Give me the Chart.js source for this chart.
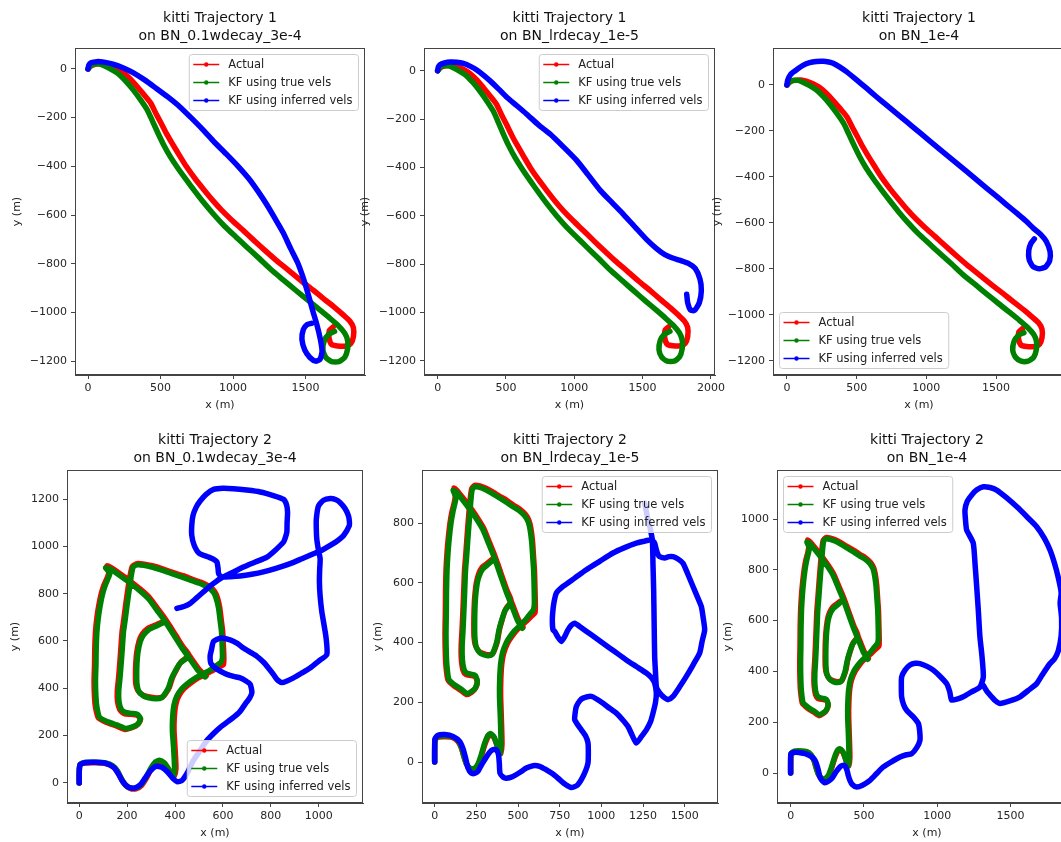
<!DOCTYPE html>
<html>
<head>
<meta charset="utf-8">
<title>KITTI trajectories</title>
<script src="https://cdn.jsdelivr.net/npm/chart.js@4.4.1/dist/chart.umd.min.js"></script>
<style>
  html, body { margin: 0; padding: 0; background: #fff; }
  #fig { position: relative; width: 1061px; height: 842px; overflow: hidden; background: #fff; }
  #fig canvas { position: absolute; }
</style>
</head>
<body>
<div id="fig"></div>
<script>
// ---------- series labels ----------
const seriesLabels = ['Actual', 'KF using true vels', 'KF using inferred vels'];

// ---------- trajectory 1 (metres) ----------
const traj1Actual = [
  [0,0],[20,12],[54,20],[100,22],[139,17],[190,5],[237,-12],[290,-40],[335,-70],[385,-105],
  [432,-140],[470,-185],[506,-225],[545,-270],[579,-305],[630,-355],[677,-400],[740,-452],
  [799,-496],[860,-540],[921,-580],[990,-620],[1068,-662],[1140,-702],[1214,-742],[1300,-787],
  [1385,-828],[1470,-870],[1556,-910],[1630,-946],[1702,-980],[1760,-1010],[1805,-1035],
  [1830,-1062],[1830,-1100],[1812,-1128],[1780,-1138],[1720,-1138],[1680,-1132],[1662,-1105],
  [1664,-1074],[1690,-1060]
];
const traj1KfTrue = [
  [0,0],[20,14],[42,20],[80,20],[115,12],[160,-2],[213,-22],[260,-50],[310,-85],[360,-125],
  [408,-168],[445,-215],[481,-262],[520,-310],[567,-360],[620,-408],[677,-455],[740,-505],
  [799,-550],[870,-600],[945,-648],[1020,-690],[1092,-730],[1180,-778],[1263,-825],[1350,-868],
  [1434,-910],[1520,-952],[1605,-993],[1670,-1025],[1727,-1055],[1770,-1085],[1790,-1115],
  [1790,-1150],[1770,-1185],[1730,-1202],[1680,-1202],[1640,-1185],[1620,-1155],[1630,-1115],
  [1660,-1090],[1700,-1078]
];
const traj1InferredWdecay = [
  [0,0],[5,15],[20,25],[60,30],[110,28],[172,20],[240,5],[310,-15],[390,-45],[471,-80],
  [550,-115],[632,-155],[710,-200],[793,-250],[870,-300],[954,-350],[1035,-400],[1115,-455],
  [1175,-505],[1230,-555],[1290,-615],[1345,-672],[1395,-735],[1445,-795],[1485,-860],
  [1518,-925],[1548,-990],[1578,-1050],[1602,-1110],[1614,-1160],[1600,-1192],[1570,-1200],
  [1530,-1185],[1495,-1155],[1475,-1110],[1485,-1070],[1510,-1050],[1540,-1045]
];
const traj1InferredLrdecay = [
  [0,0],[5,15],[17,25],[50,32],[90,36],[140,35],[188,30],[240,18],[286,3],[335,-18],
  [384,-42],[445,-75],[506,-110],[580,-145],[652,-180],[740,-225],[823,-262],[920,-315],
  [1019,-372],[1100,-430],[1190,-495],[1275,-545],[1361,-595],[1450,-650],[1532,-700],
  [1600,-735],[1660,-760],[1720,-775],[1776,-785],[1835,-797],[1885,-818],[1920,-862],
  [1930,-910],[1915,-960],[1880,-992],[1850,-990],[1830,-960],[1823,-925]
];
const traj1InferredBase = [
  [0,0],[5,20],[25,45],[67,65],[115,85],[163,97],[210,102],[259,103],[300,100],[331,95],
  [380,78],[427,58],[500,22],[571,-14],[640,-50],[715,-88],[810,-135],[907,-184],[1000,-231],
  [1099,-281],[1195,-329],[1291,-377],[1385,-425],[1483,-474],[1570,-518],[1651,-559],
  [1715,-592],[1771,-625],[1820,-650],[1860,-680],[1888,-725],[1885,-765],[1855,-792],
  [1810,-800],[1765,-790],[1738,-760],[1735,-720],[1750,-690],[1775,-670]
];

// ---------- trajectory 2 (metres) ----------
const traj2Actual = [
  [0,0],[0,40],[3,76],[25,84],[70,85],[110,82],[140,69],[160,47],[176,17],[192,-8],[212,-23],
  [237,-25],[260,-11],[280,19],[300,57],[320,84],[337,92],[357,81],[375,55],[388,32],[396,28],
  [404,60],[400,150],[396,220],[397,276],[403,330],[415,366],[437,398],[460,418],[490,440],
  [522,457],[555,474],[580,488],[602,500],
  [604,530],[602,580],[599,640],[593,690],[587,740],[577,784],[565,810],[544,830],
  [509,848],[474,860],[434,876],[390,890],[348,905],[305,918],[272,925],[241,927],[222,915],
  [213,880],[207,845],[199,790],[193,745],[186,690],[179,640],[174,570],[169,501],[164,440],
  [159,389],[160,345],[170,308],[188,293],[218,290],[243,286],[256,268],[244,247],[222,234],
  [192,226],[157,240],[116,255],[80,275],
  [68,320],[64,361],[62,430],[64,501],[65,570],[68,640],[74,700],[82,752],[92,800],[103,836],
  [118,870],[124,892],[118,905],[116,918],
  [133,910],[169,885],[210,855],[254,820],[294,783],[329,735],[363,688],[399,630],[433,576],[459,540],
  [426,512],[405,477],[389,444],[377,406],[364,383],[349,364],[322,359],[288,364],[264,372],
  [244,392],[236,420],[235,460],[236,501],[240,550],[250,600],[264,630],[286,653],[318,667],[362,684],
  [399,630],[433,576],[469,525],[502,478],[530,452]
];
const traj2KfTrue = [
  [0,0],[0,40],[4,78],[25,86],[70,87],[110,84],[140,72],[160,50],[175,20],[190,-5],[210,-20],
  [235,-22],[258,-8],[278,22],[298,60],[318,88],[335,96],[355,85],[372,60],[385,35],[393,28],
  [398,60],[394,150],[389,220],[390,276],[396,330],[408,368],[430,400],[452,420],[480,440],
  [512,458],[545,476],[568,493],[592,510],
  [598,530],[597,580],[594,640],[588,690],[582,738],[572,780],[561,805],[540,825],
  [505,843],[470,855],[430,870],[387,885],[345,900],[303,913],[270,920],[241,922],[225,912],
  [218,880],[213,845],[205,790],[199,745],[192,690],[185,640],[180,570],[175,501],[170,440],
  [165,389],[166,345],[175,312],[192,298],[220,294],[243,290],[256,272],[246,250],[225,238],
  [195,230],[160,244],[120,258],[85,277],
  [74,320],[70,361],[68,430],[70,501],[71,570],[74,640],[80,700],[88,752],[98,800],[109,836],
  [122,868],[128,885],[118,900],[110,910],
  [130,905],[165,880],[206,850],[250,815],[290,778],[325,730],[359,683],[395,625],[429,571],[455,535],
  [422,507],[401,473],[385,440],[373,403],[360,380],[345,361],[320,356],[290,360],[268,368],
  [248,388],[241,420],[240,460],[241,501],[245,550],[255,598],[268,625],[289,647],[320,662],[359,678],
  [395,625],[429,571],[465,520],[498,473],[526,448]
];
const traj2InferredWdecay = [
  [0,0],[0,40],[3,75],[25,86],[70,87],[112,83],[145,65],[165,35],[182,5],[205,-18],[230,-22],
  [255,-8],[275,20],[296,50],[320,70],[345,66],[370,45],[392,18],[410,5],[429,10],[450,40],
  [477,95],[505,137],[533,179],[560,208],[589,235],[644,277],[670,300],[693,333],[712,360],
  [721,382],[714,417],[695,432],[672,444],[645,450],[617,459],[590,472],[568,486],[550,505],
  [547,520],[547,540],[552,562],[561,598],[589,612],[630,605],[660,590],[686,570],[715,552],
  [742,535],[770,510],[790,486],[810,460],[825,438],[846,424],[870,432],[895,444],[930,465],
  [964,486],[1000,515],[1034,543],[1031,612],[1022,670],[1013,724],[1006,790],[1003,850],
  [1004,900],[1006,948],[998,990],[992,1031],[990,1075],[990,1115],[999,1171],[1020,1195],
  [1048,1202],[1070,1198],[1090,1185],[1110,1160],[1124,1130],[1128,1108],[1128,1088],
  [1104,1046],[1080,1025],[1048,1004],[1015,985],[978,969],[930,948],[881,927],[825,908],
  [769,892],[720,882],[672,875],[630,872],[596,871],[582,885],[580,905],[575,934],[560,946],
  [540,955],[500,972],[480,1005],[470,1046],[470,1090],[475,1130],[488,1165],[505,1192],
  [530,1220],[561,1241],[600,1246],[644,1244],[700,1238],[756,1230],[810,1215],[853,1199],
  [866,1175],[870,1143],[868,1100],[867,1060],[860,1035],[853,1018],[820,985],[784,955],
  [735,934],[686,913],[640,890],[589,864],[550,835],[519,808],[490,782],[463,759],[440,747],[408,738]
];
const traj2InferredLrdecay = [
  [0,0],[0,40],[2,78],[20,90],[60,92],[110,86],[150,69],[170,45],[185,15],[200,-20],[220,-37],
  [240,-38],[260,-31],[280,-10],[300,8],[330,33],[350,42],[370,41],[383,25],[388,-5],[392,-37],
  [410,-50],[430,-54],[470,-48],[510,-35],[550,-20],[590,-12],[630,-14],[670,-26],[710,-40],
  [750,-59],[785,-75],[820,-85],[855,-78],[880,-59],[905,-30],[920,-3],[922,30],[920,64],
  [905,88],[880,108],[858,125],[840,142],[843,165],[850,186],[870,205],[890,214],[940,220],
  [975,210],[1010,197],[1050,180],[1090,164],[1130,140],[1160,119],[1185,90],[1210,64],
  [1240,85],[1270,108],[1295,135],[1310,164],[1325,200],[1330,231],[1320,264],[1300,283],
  [1270,298],[1210,320],[1150,342],[1080,370],[1010,398],[940,426],[870,454],[840,465],
  [820,458],[800,443],[780,420],[760,404],[740,418],[720,438],[710,443],[706,470],[708,499],
  [716,535],[730,566],[770,588],[840,616],[910,644],[990,672],[1070,700],[1140,718],[1210,733],
  [1260,740],[1290,744],[1310,740],[1320,733],[1330,711],[1340,695],[1350,688],[1380,683],
  [1405,688],[1430,688],[1460,680],[1490,666],[1520,628],[1550,588],[1575,555],[1600,521],
  [1612,480],[1620,443],[1605,405],[1590,365],[1550,325],[1510,287],[1470,252],[1430,220],
  [1400,209],[1380,215],[1360,225],[1340,240],[1330,253],[1325,300],[1320,353],[1317,460],
  [1314,577],[1310,660],[1306,744],[1290,790],[1280,811],[1260,867]
];
const traj2InferredBase = [
  [0,0],[0,40],[2,75],[30,82],[63,80],[100,76],[140,65],[166,50],[185,20],[200,-16],[215,-30],
  [234,-38],[258,-32],[280,-22],[310,5],[336,24],[355,30],[370,28],[385,10],[393,-10],[405,-30],
  [420,-45],[450,-55],[490,-48],[541,-29],[590,0],[632,24],[690,45],[746,63],[790,72],[825,76],
  [860,100],[882,129],[880,165],[871,195],[835,222],[791,247],[770,270],[757,300],[755,340],
  [757,378],[780,405],[814,425],[850,432],[882,431],[930,420],[973,405],[1020,380],[1064,352],
  [1085,320],[1098,287],[1140,292],[1177,300],[1230,318],[1291,339],[1314,378],[1305,460],
  [1291,536],[1280,640],[1269,733],[1258,820],[1246,904],[1220,935],[1200,957],[1192,1000],
  [1189,1036],[1205,1070],[1235,1095],[1270,1115],[1314,1127],[1360,1124],[1405,1114],
  [1470,1085],[1541,1049],[1610,1010],[1678,970],[1730,925],[1769,878],[1800,825],[1825,770],
  [1845,710],[1838,670],[1848,610],[1845,540],[1825,480],[1800,450],[1769,431],[1720,390],
  [1678,352],[1620,325],[1564,300],[1500,285],[1428,274],[1395,285],[1371,300],[1340,320],[1314,345]
];

// ---------- tick values ----------
const ticksX_t1 = [0, 500, 1000, 1500];
const ticksX_t1wide = [0, 500, 1000, 1500, 2000];
const ticksY_t1 = [0, -200, -400, -600, -800, -1000, -1200];
const ticksX_t2a = [0, 200, 400, 600, 800, 1000];
const ticksY_t2a = [0, 200, 400, 600, 800, 1000, 1200];
const ticksX_t2b = [0, 250, 500, 750, 1000, 1250, 1500];
const ticksY_t2b = [0, 200, 400, 600, 800];
const ticksX_t2c = [0, 500, 1000, 1500];
const ticksY_t2c = [0, 200, 400, 600, 800, 1000];

// ---------- panel layout ----------
const panels = [
  { title: ['kitti Trajectory 1', 'on BN_0.1wdecay_3e-4'], actual: traj1Actual, kfTrue: traj1KfTrue, inferred: traj1InferredWdecay,
    box: { l: 75, t: 48, r: 365, b: 375 }, xr: [-90, 1910], yr: [-1257, 86], xt: ticksX_t1, yt: ticksY_t1, legend: 'tr', yGap: 58 },
  { title: ['kitti Trajectory 1', 'on BN_lrdecay_1e-5'], actual: traj1Actual, kfTrue: traj1KfTrue, inferred: traj1InferredLrdecay,
    box: { l: 424, t: 48, r: 715, b: 375 }, xr: [-100, 2030], yr: [-1259, 94], xt: ticksX_t1wide, yt: ticksY_t1, legend: 'tr', yGap: 59 },
  { title: ['kitti Trajectory 1', 'on BN_1e-4'], actual: traj1Actual, kfTrue: traj1KfTrue, inferred: traj1InferredBase,
    box: { l: 773, t: 48, r: 1065, b: 375 }, xr: [-100, 1995], yr: [-1262, 161], xt: ticksX_t1, yt: ticksY_t1, legend: 'bl', yGap: 56 },
  { title: ['kitti Trajectory 2', 'on BN_0.1wdecay_3e-4'], actual: traj2Actual, kfTrue: traj2KfTrue, inferred: traj2InferredWdecay,
    box: { l: 67, t: 470, r: 363, b: 803 }, xr: [-51, 1185], yr: [-85, 1323], xt: ticksX_t2a, yt: ticksY_t2a, legend: 'br', yGap: 52 },
  { title: ['kitti Trajectory 2', 'on BN_lrdecay_1e-5'], actual: traj2Actual, kfTrue: traj2KfTrue, inferred: traj2InferredLrdecay,
    box: { l: 422, t: 470, r: 718, b: 803 }, xr: [-76, 1700], yr: [-137, 978], xt: ticksX_t2b, yt: ticksY_t2b, legend: 'tr', yGap: 44 },
  { title: ['kitti Trajectory 2', 'on BN_1e-4'], actual: traj2Actual, kfTrue: traj2KfTrue, inferred: traj2InferredBase,
    box: { l: 777, t: 470, r: 1077, b: 803 }, xr: [-93, 1953], yr: [-118, 1193], xt: ticksX_t2c, yt: ticksY_t2c, legend: 'tl', yGap: 49 }
];

const FONT = '"DejaVu Sans", "Liberation Sans", sans-serif';
Chart.defaults.font.family = FONT;
const colors = ['#ff0000', '#008000', '#0000ff'];
const Y_AXIS_W = 70, X_AXIS_H = 45, TITLE_H = 48, RIGHT_PAD = 20;

const fmtTick = v => String(v).replace('-', '\u2212');

// full rectangular frame around the plotting area
const frameBox = {
  id: 'frameBox',
  afterDatasetsDraw(chart) {
    const { ctx, chartArea: a } = chart;
    ctx.save();
    ctx.strokeStyle = '#444';
    ctx.lineWidth = 1;
    ctx.strokeRect(Math.round(a.left) + 0.5, Math.round(a.top) + 0.5,
                   Math.round(a.right - a.left) - 1, Math.round(a.bottom - a.top) - 1);
    ctx.restore();
  }
};

// legend drawn inside the plotting area, line-with-dot handles
const insetLegend = {
  id: 'insetLegend',
  afterDatasetsDraw(chart, args, opts) {
    const { ctx, chartArea: a } = chart;
    const ds = chart.data.datasets;
    ctx.save();
    ctx.font = '11.5px ' + FONT;
    const tw = Math.max(...ds.map(d => ctx.measureText(d.label).width));
    const w = 39 + tw + 6, h = 56, inset = 6.5;
    const x = opts.corner[1] === 'r' ? a.right - inset - w : a.left + inset;
    const y = opts.corner[0] === 't' ? a.top + inset : a.bottom - inset - h;
    ctx.beginPath();
    if (ctx.roundRect) ctx.roundRect(x, y, w, h, 3); else ctx.rect(x, y, w, h);
    ctx.fillStyle = 'rgba(255,255,255,0.8)';
    ctx.fill();
    ctx.strokeStyle = '#cccccc';
    ctx.lineWidth = 1;
    ctx.stroke();
    ds.forEach((d, i) => {
      const cy = y + 10 + i * 18;
      ctx.strokeStyle = d.borderColor;
      ctx.lineWidth = 1.5;
      ctx.beginPath();
      ctx.moveTo(x + 4, cy);
      ctx.lineTo(x + 30, cy);
      ctx.stroke();
      ctx.fillStyle = d.borderColor;
      ctx.beginPath();
      ctx.arc(x + 17, cy, 2.2, 0, Math.PI * 2);
      ctx.fill();
      ctx.fillStyle = '#222';
      ctx.textBaseline = 'middle';
      ctx.textAlign = 'left';
      ctx.fillText(d.label, x + 39, cy + 0.5);
    });
    ctx.restore();
  }
};

const fig = document.getElementById('fig');

panels.forEach(p => {
  const cl = p.box.l - Y_AXIS_W, ct = p.box.t - TITLE_H;
  const cw = p.box.r + RIGHT_PAD - cl, chh = p.box.b + X_AXIS_H - ct;
  const canvas = document.createElement('canvas');
  canvas.width = cw; canvas.height = chh;
  canvas.style.left = cl + 'px'; canvas.style.top = ct + 'px';
  canvas.style.width = cw + 'px'; canvas.style.height = chh + 'px';
  fig.appendChild(canvas);

  const series = [p.actual, p.kfTrue, p.inferred];
  const datasets = series.map((s, i) => ({
    label: seriesLabels[i],
    data: s.map(([x, y]) => ({ x, y })),
    borderColor: colors[i],
    backgroundColor: colors[i],
    borderWidth: 5.5,
    pointRadius: 0,
    showLine: true,
    fill: false,
    tension: 0.2,
    borderJoinStyle: 'round',
    borderCapStyle: 'round',
    order: 3 - i
  }));

  const axisCommon = {
    type: 'linear',
    grid: { drawOnChartArea: false, drawTicks: true, tickLength: 4, color: '#444' },
    border: { display: true, color: '#444', width: 1 },
  };

  new Chart(canvas, {
    type: 'scatter',
    data: { datasets },
    plugins: [frameBox, insetLegend],
    options: {
      responsive: false,
      animation: false,
      devicePixelRatio: 1,
      events: [],
      layout: { padding: { left: 0, top: 0, right: RIGHT_PAD, bottom: 0 } },
      plugins: {
        legend: { display: false },
        tooltip: { enabled: false },
        title: {
          display: true, text: p.title, fullSize: false, color: '#111',
          font: { size: 14, weight: 'normal', lineHeight: 18 / 14 },
          padding: { top: 9, bottom: 3 }
        },
        insetLegend: { corner: p.legend }
      },
      scales: {
        x: Object.assign({}, axisCommon, {
          position: 'bottom',
          min: p.xr[0], max: p.xr[1],
          afterFit: s => { s.height = X_AXIS_H; },
          afterBuildTicks: s => { s.ticks = p.xt.map(v => ({ value: v })); },
          ticks: { callback: fmtTick, color: '#262626', font: { size: 11 }, padding: 3, maxRotation: 0, autoSkip: false },
          title: { display: true, text: 'x (m)', color: '#222', font: { size: 11 }, padding: { top: 0, bottom: 8.4 } }
        }),
        y: Object.assign({}, axisCommon, {
          position: 'left',
          min: p.yr[0], max: p.yr[1],
          afterFit: s => { s.width = Y_AXIS_W; },
          afterBuildTicks: s => { s.ticks = p.yt.map(v => ({ value: v })); },
          ticks: { callback: fmtTick, color: '#262626', font: { size: 11 }, padding: 4, autoSkip: false },
          title: { display: true, text: 'y (m)', color: '#222', font: { size: 11 }, padding: { top: Y_AXIS_W - p.yGap - 6.6, bottom: 0 } }
        })
      }
    }
  });
});
</script>
</body>
</html>
